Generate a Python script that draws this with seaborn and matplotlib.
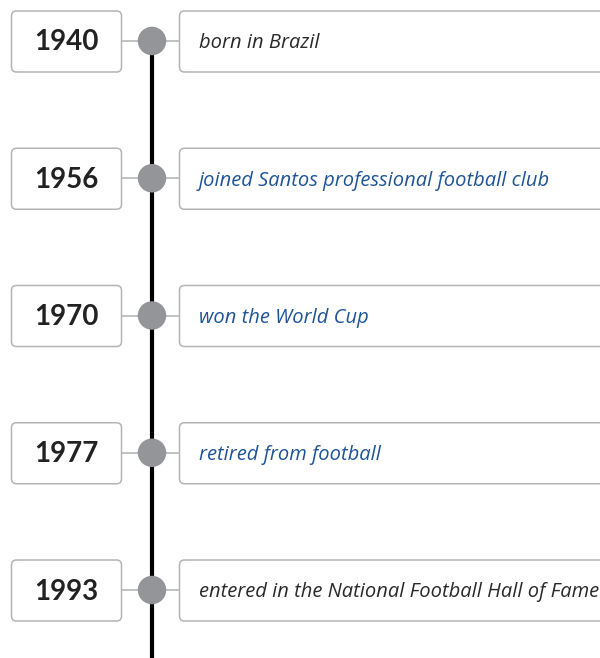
import matplotlib
matplotlib.use('Agg')
import matplotlib.pyplot as plt
import seaborn as sns
import pandas as pd
from matplotlib.patches import FancyBboxPatch

years = ['1940', '1956', '1970', '1977', '1993']
events = ['born in Brazil',
          'joined Santos professional football club',
          'won the World Cup',
          'retired from football',
          'entered in the National Football Hall of Fame']
highlight = [False, True, True, True, False]

sns.set_style('white')
plt.rcParams['font.family'] = ['Lato', 'DejaVu Sans']

# layout in pixels
W, H = 600, 658
top, step = 41, 137.25
axis_x = 152

df = pd.DataFrame({'year': years, 'event': events, 'hl': highlight})
df['y'] = [top + i * step for i in range(len(df))]
df['x'] = axis_x

fig = plt.figure(figsize=(6, 6.58), dpi=100)
ax = fig.add_axes([0, 0, 1, 1])

# main spine of the timeline
ax.plot([axis_x, axis_x], [df['y'].iloc[0], H], color='black', lw=3, zorder=1)

for _, r in df.iterrows():
    # connectors
    ax.plot([122, 179], [r.y, r.y], color='#b8b8b8', lw=1.2, zorder=0)
    # year box
    ax.add_patch(FancyBboxPatch((11.5 + 5, r.y - 30 + 5), 110 - 10, 61 - 10,
                                boxstyle='round,pad=5', fc='white', ec='#b4b4b4', lw=1.1, zorder=2))
    ax.text(66, r.y + 1.5, r.year, ha='center', va='center', fontsize=20,
            fontweight='bold', color='#222222', zorder=3)
    # event box
    ax.add_patch(FancyBboxPatch((179.5 + 5, r.y - 30 + 5), 440, 61 - 10,
                                boxstyle='round,pad=5', fc='white', ec='#b4b4b4', lw=1.1, zorder=2))
    ax.text(199, r.y + 2.5, r.event, ha='left', va='center', fontsize=14.5, style='italic',
            family=['Open Sans', 'DejaVu Sans'],
            color='#1f5497' if r.hl else '#2a2a2a', zorder=3)

sns.scatterplot(data=df, x='x', y='y', ax=ax, s=420, color='#939598',
                edgecolor='none', zorder=4, legend=False)
ax.set_xlim(0, W)
ax.set_ylim(H, 0)
ax.axis('off')

fig.savefig('out.png', dpi=100)
